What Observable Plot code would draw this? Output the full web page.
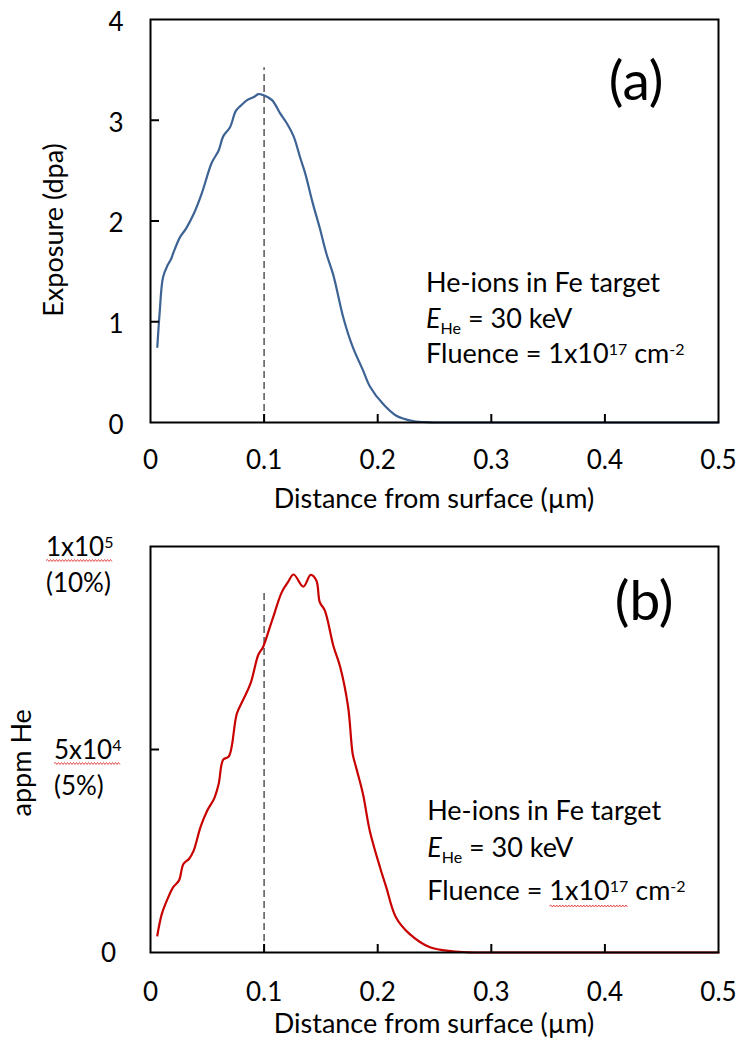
<!DOCTYPE html>
<html><head><meta charset="utf-8">
<script src="https://cdn.jsdelivr.net/npm/d3@7"></script>
<script src="https://cdn.jsdelivr.net/npm/@observablehq/plot@0.6"></script>
<style>
html,body{margin:0;padding:0;background:#fff;}
#chart svg{display:block;}
</style></head><body><div id="chart"></div>
<script>
// ---- data ----
const xTicks = [0, 0.1, 0.2, 0.3, 0.4, 0.5];
const xInnerTicks = [0.1, 0.2, 0.3, 0.4];
const yTicksA = [0, 1, 2, 3, 4];
const yInnerTicksA = [1, 2, 3];
const yInnerTicksB = [50000];
const peakMarker = 0.1;          // dashed line position (µm)
const dashTopA = 3.52;           // dpa
const dashTopB = 88400;          // appm

// Panel (a): displacement damage (dpa) vs depth
const distA = [0.006,0.008,0.011,0.015,0.018,0.020,0.026,0.031,0.038,0.045,
  0.054,0.060,0.064,0.070,0.075,0.079,0.085,0.091,0.095,0.099,
  0.107,0.114,0.120,0.126,0.132,0.136,0.143,0.149,0.155,0.161,
  0.170,0.178,0.187,0.193,0.205,0.216,0.231,0.246,0.26,0.30,
  0.40,0.50];
const dpa = [0.75,1.08,1.44,1.56,1.62,1.68,1.84,1.92,2.07,2.27,
  2.58,2.70,2.84,2.93,3.09,3.14,3.20,3.23,3.26,3.25,
  3.20,3.07,2.97,2.84,2.62,2.48,2.17,1.93,1.67,1.46,
  1.03,0.75,0.52,0.36,0.18,0.07,0.015,0.002,0,0,
  0,0];

// Panel (b): He concentration (appm) vs depth
const distB = [0.006,0.010,0.015,0.020,0.025,0.029,0.034,0.038,0.044,0.050,
  0.056,0.060,0.064,0.069,0.076,0.082,0.088,0.095,0.099,0.105,
  0.108,0.1155,0.121,0.126,0.1345,0.141,0.146,0.149,0.1535,0.161,
  0.167,0.174,0.178,0.181,0.187,0.193,0.202,0.2075,0.216,0.228,
  0.246,0.266,0.28,0.30,0.40,0.50];
const appmHe = [4200,9500,13200,16100,17700,21800,23100,25100,30900,35000,
  37900,41500,47500,48300,58800,62500,66200,73400,75200,80100,
  82600,88700,91200,93100,90100,93000,91600,86300,84200,75500,
  70300,60400,48900,45600,39100,30000,21000,16100,8700,4600,
  1300,300,50,0,0,0];

const yLabelsB = [
  {value: 100000, base: "1x10", exp: "5", pct: "(10%)"},
  {value: 50000, base: "5x10", exp: "4", pct: "(5%)"}
];

const xTitle = "Distance from surface (µm)";
const yTitleA = "Exposure (dpa)";
const yTitleB = "appm He";
const noteLine1 = "He-ions in Fe target";

// ---- drawing ----
const fontFamily = "Lato, 'Open Sans', sans-serif";
const blue = "#3d6394";
const red = "#c80000";
const W = 738, H = 520, ML = 150, MR = 20;
const TXT = 27, TICK = 26, SMALL = 16;

const dataA = distA.map((x, i) => ({x, y: dpa[i]}));
const dataB = distB.map((x, i) => ({x, y: appmHe[i]}));

function makePanel(cfg) {
  const fw = W - ML - MR, fh = H - cfg.mt - cfg.mb;
  const xMax = 0.5, yMax = cfg.yDomain[1];
  const tickLenY = xMax * 9 / fw;   // 9px inward ticks on the y axis
  const tickLenX = yMax * 8 / fh;   // 8px inward ticks on the x axis
  return Plot.plot({
    width: W, height: H,
    marginTop: cfg.mt, marginBottom: cfg.mb, marginLeft: ML, marginRight: MR,
    x: {domain: [0, xMax], label: null},
    y: {domain: cfg.yDomain, label: null},
    style: {fontFamily, fontSize: TICK + "px", color: "#000", background: "#fff", overflow: "visible"},
    marks: [
      Plot.ruleX([peakMarker], {y1: 0, y2: cfg.dashTop, stroke: "#555", strokeWidth: 1.5, strokeDasharray: "7,4"}),
      Plot.line(cfg.data, {x: "x", y: "y", stroke: cfg.color, strokeWidth: 2.2, curve: "catmull-rom"}),
      Plot.ruleX(xInnerTicks, {x: d => d, y1: 0, y2: tickLenX, stroke: "#000", strokeWidth: 2}),
      Plot.ruleY(cfg.yInner, {y: d => d, x1: 0, x2: tickLenY, stroke: "#000", strokeWidth: 2}),
      Plot.axisX({ticks: xTicks, tickSize: 0, tickPadding: cfg.xPad, tickFormat: d => String(d)}),
      ...(cfg.yLabels ? [Plot.axisY({ticks: cfg.yLabels, tickSize: 0, tickPadding: 27, dy: 3, tickFormat: d => String(d)})] : [Plot.axisY({ticks: [], tickSize: 0})]),
      Plot.frame({stroke: "#000", strokeWidth: 2})
    ]
  });
}

function addText(svg, x, y, segs, opts = {}) {
  const t = d3.select(svg).append("text")
    .attr("x", x).attr("y", y)
    .attr("font-family", fontFamily)
    .attr("font-size", opts.size || TXT)
    .attr("fill", "#000")
    .attr("text-anchor", opts.anchor || "start");
  if (opts.dy) t.attr("dy", opts.dy);
  if (opts.rotate) t.attr("transform", `rotate(${opts.rotate},${x},${y})`);
  let shift = 0;
  const spans = [];
  for (const s of segs) {
    const sp = t.append("tspan").text(s.t);
    const target = s.sup ? -8 : s.sub ? 6 : 0;
    if (target !== shift) { sp.attr("dy", target - shift); shift = target; }
    if (s.sup || s.sub) sp.attr("font-size", SMALL);
    if (s.italic) sp.attr("font-style", "italic");
    spans.push(sp.node());
  }
  return spans;
}

function squiggle(svg, x1, x2, y) {
  let d = `M${x1},${y}`;
  let up = true;
  for (let x = x1 + 1.5; x <= x2; x += 1.5) { d += ` L${x},${y + (up ? -1 : 1)}`; up = !up; }
  d3.select(svg).append("path").attr("d", d).attr("fill", "none").attr("stroke", "#e23b3b").attr("stroke-width", 0.9);
}

function notes(svg, sx, sy, x0, ys) {
  addText(svg, sx(x0), sy(ys[0]), [{t: noteLine1}]);
  addText(svg, sx(x0), sy(ys[1]), [{t: "E", italic: true}, {t: "He", sub: true}, {t: " = 30 keV"}]);
  return addText(svg, sx(x0), sy(ys[2]), [{t: "Fluence = "}, {t: "1x10"}, {t: "17", sup: true}, {t: " cm"}, {t: "-2", sup: true}]);
}

const root = document.getElementById("chart");

// Panel (a)
const pa = makePanel({mt: 19, mb: 98, yDomain: [0, 4], dashTop: dashTopA, data: dataA, color: blue,
  yInner: yInnerTicksA, yLabels: yTicksA, xPad: 28});
root.appendChild(pa);
{
  const sx = pa.scale("x").apply, sy = pa.scale("y").apply;
  addText(pa, sx(0.428), sy(3.2), [{t: "(a)"}], {size: 55, anchor: "middle"});
  notes(pa, sx, sy, 0.243, [1.29, 0.93, 0.585]);
  addText(pa, (sx(0) + sx(0.5)) / 2, sy(0) + 86, [{t: xTitle}], {anchor: "middle"});
  addText(pa, 54, sy(1.906), [{t: yTitleA}], {anchor: "middle", rotate: -90, dy: "0.35em"});
}

// Panel (b)
const pb = makePanel({mt: 26, mb: 88, yDomain: [0, 100000], dashTop: dashTopB, data: dataB, color: red,
  yInner: yInnerTicksB, yLabels: null, xPad: 30});
root.appendChild(pb);
{
  const sx = pb.scale("x").apply, sy = pb.scale("y").apply;
  addText(pb, sx(0.435), sy(81800), [{t: "(b)"}], {size: 55, anchor: "middle"});
  const fl = notes(pb, sx, sy, 0.244, [32500, 23500, 12800]);
  const b1 = fl[1].getBBox(), b2 = fl[2].getBBox();
  squiggle(pb, b1.x, b2.x + b2.width, sy(12800) + 6);
  addText(pb, (sx(0) + sx(0.5)) / 2, sy(0) + 81, [{t: xTitle}], {anchor: "middle"});
  addText(pb, 22, sy(46600), [{t: yTitleB}], {anchor: "middle", rotate: -90, dy: "0.35em"});
  // y tick labels
  addText(pb, 116, sy(0) + 9.7, [{t: "0"}], {anchor: "end", size: TICK});
  const lefts = [46, 54];
  yLabelsB.forEach((L, i) => {
    const yy = sy(L.value);
    const sp = addText(pb, lefts[i], yy + 10, [{t: L.base}, {t: L.exp, sup: true}], {size: TICK});
    const e = sp[1].getBBox();
    squiggle(pb, lefts[i], e.x + e.width, yy + 14.5);
    addText(pb, lefts[i], yy + 46, [{t: L.pct}], {size: TICK});
  });
}
</script>
</body></html>
